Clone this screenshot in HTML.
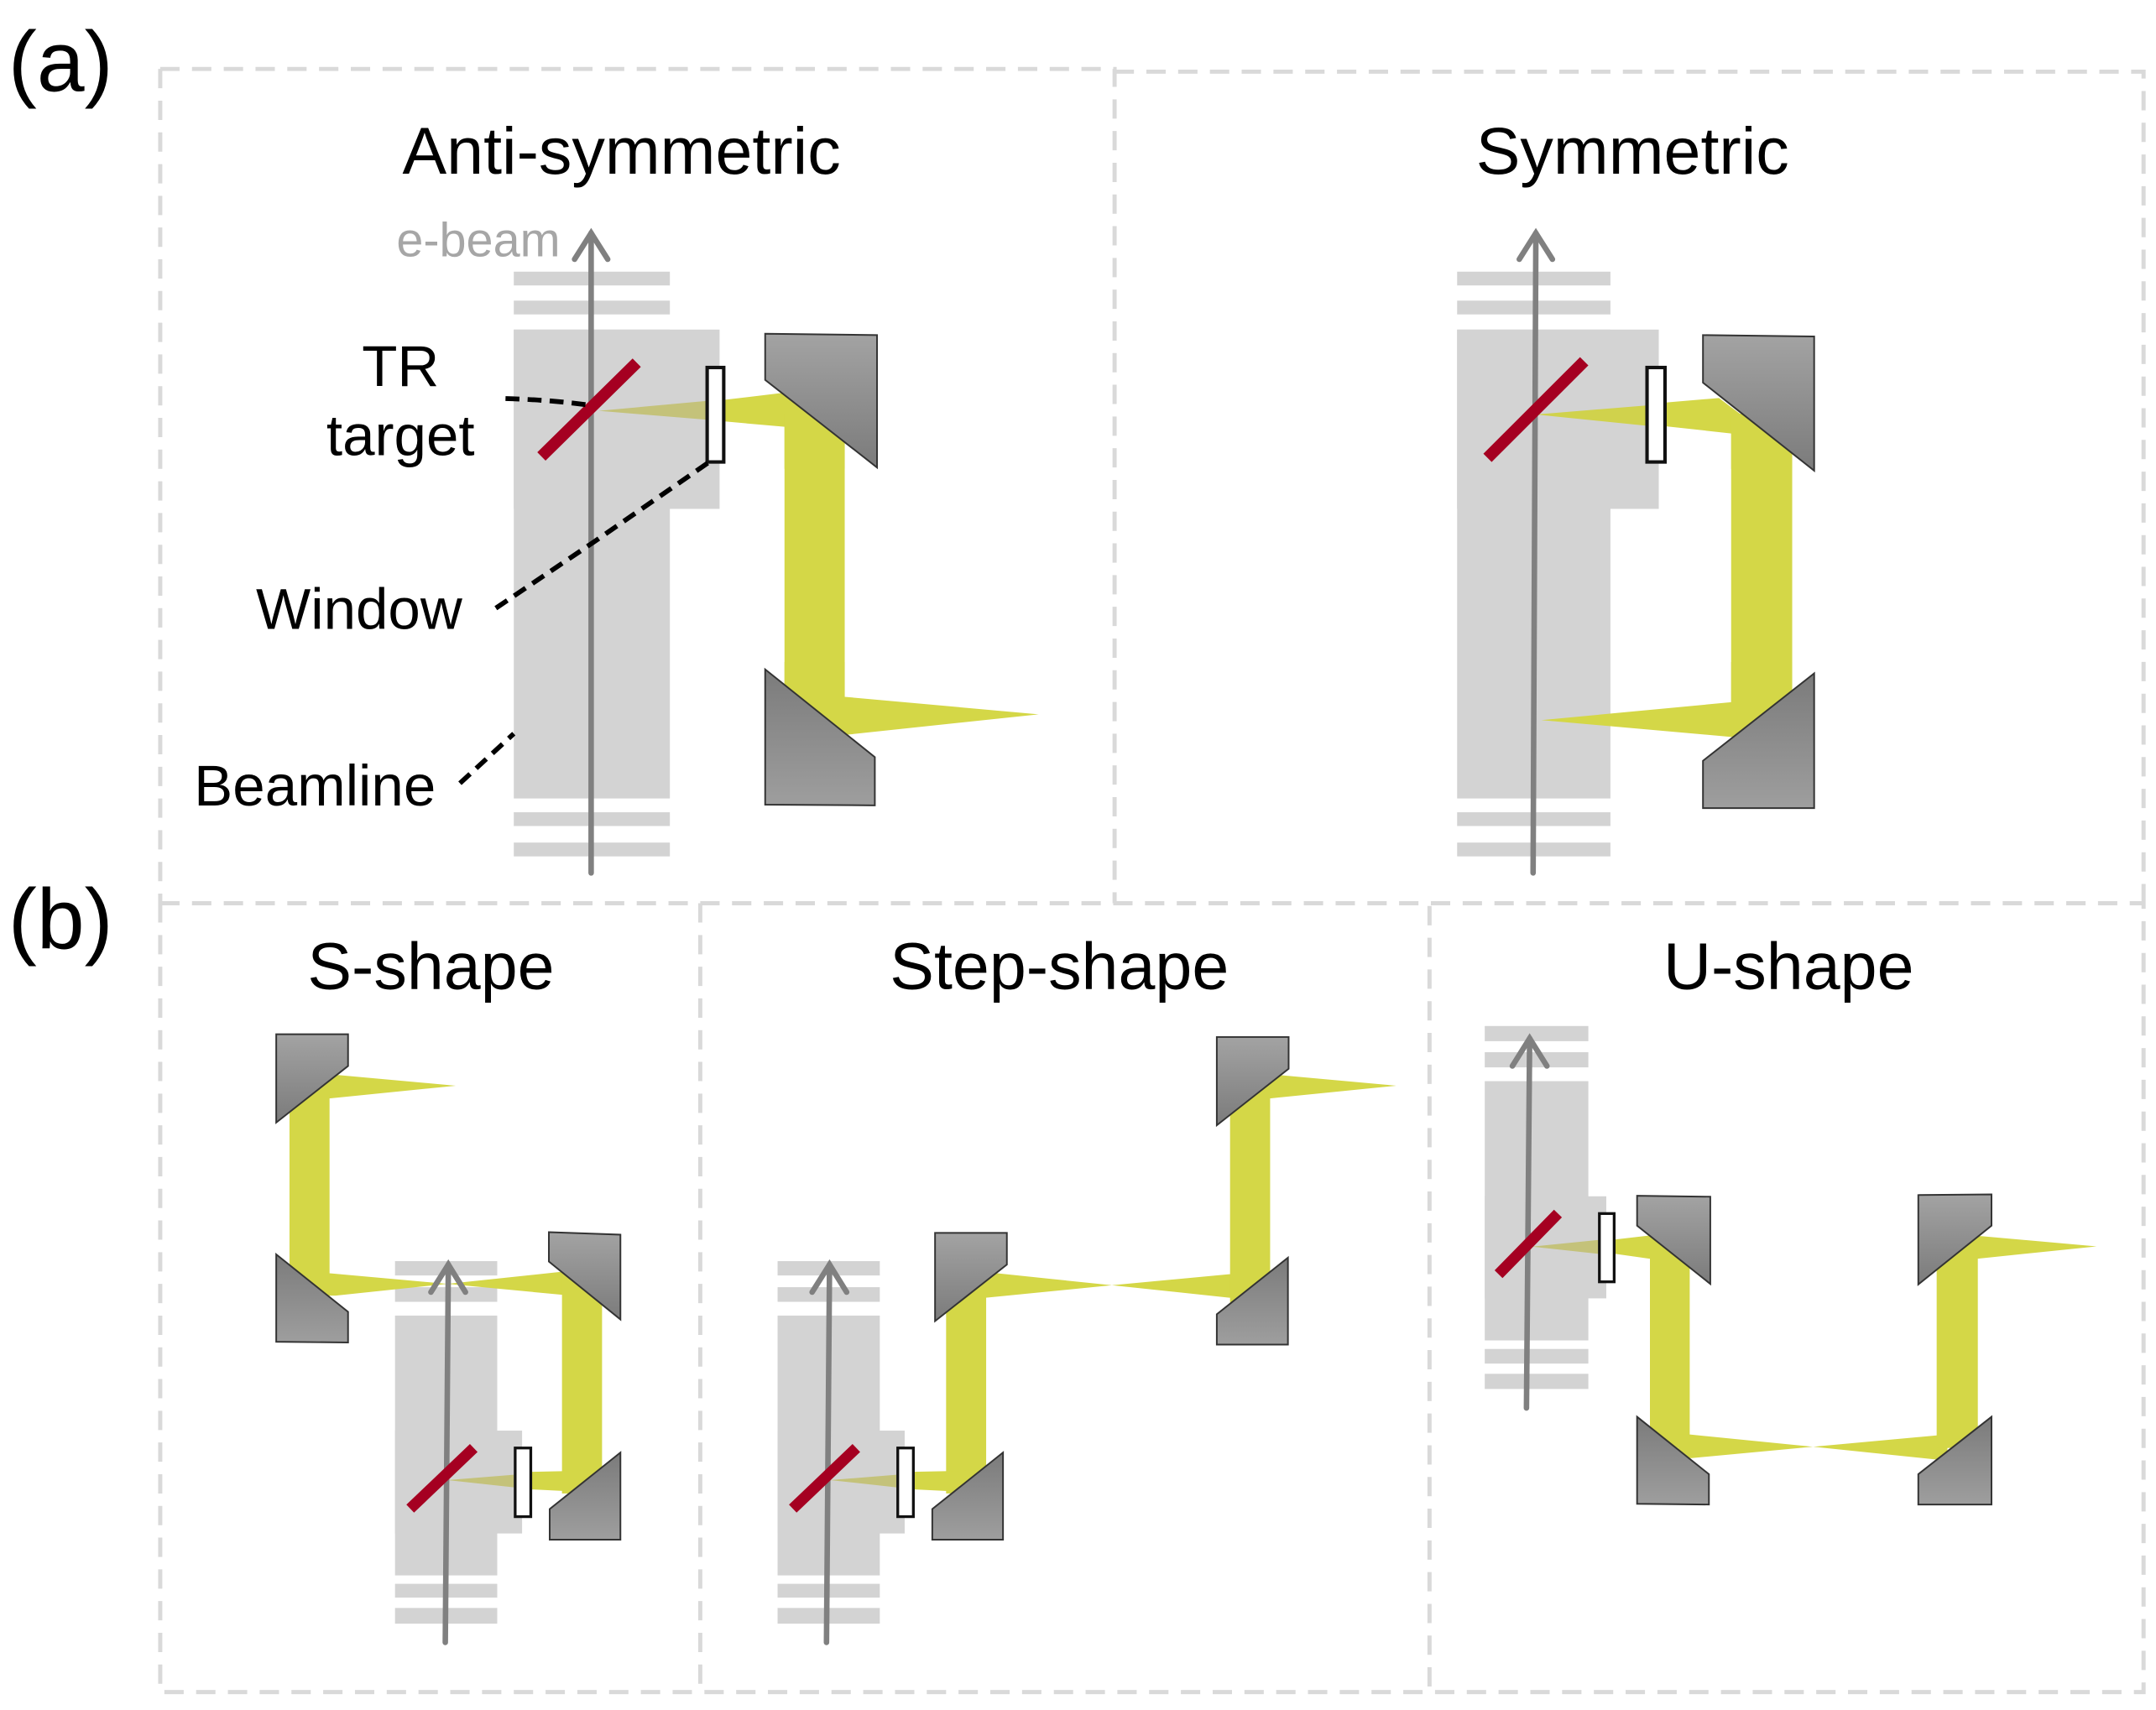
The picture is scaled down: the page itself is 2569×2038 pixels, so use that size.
<!DOCTYPE html>
<html><head><meta charset="utf-8"><style>html,body{margin:0;padding:0;background:#fff}svg{display:block}text{font-family:"Liberation Sans",Arial,sans-serif}</style></head>
<body>
<svg width="2569" height="2038" viewBox="0 0 1561 1240" preserveAspectRatio="none" xmlns="http://www.w3.org/2000/svg">
<defs>
<linearGradient id="gt" x1="0" y1="0" x2="0" y2="1"><stop offset="0" stop-color="#a3a3a3"/><stop offset="1" stop-color="#7b7b7b"/></linearGradient>
<linearGradient id="gb" x1="0" y1="0" x2="0" y2="1"><stop offset="0" stop-color="#7b7b7b"/><stop offset="1" stop-color="#9e9e9e"/></linearGradient>
</defs>
<rect width="1561" height="1240" fill="#fff"/>
<!-- dashed frames -->
<g stroke="#d9d9d9" stroke-width="3" fill="none" stroke-dasharray="14 9">
<path d="M116,50 H807 V655"/>
<path d="M807,52 H1552 V655"/>
<path d="M116,50 V655"/>
<path d="M116,655 H1552"/>
<path d="M116,655 V1227 H1552 V655"/>
<path d="M507,655 V1227"/>
<path d="M1035,657 V1227"/>
</g>
<!-- labels -->
<text x="6" y="66" font-size="62">(a)</text>
<text x="6" y="688" font-size="62">(b)</text>
<g font-size="48" text-anchor="middle">
<text x="450" y="126">Anti-symmetric</text>
<text x="1182" y="126">Symmetric</text>
<text x="312" y="717">S-shape</text>
<text x="767" y="717">Step-shape</text>
<text x="1295" y="717">U-shape</text>
</g>
<g font-size="42" text-anchor="middle">
<text x="290" y="280">TR</text>
<text x="290" y="330">target</text>
<text x="260" y="456">Window</text>
<text x="228" y="584">Beamline</text>
</g>
<text x="287" y="186" font-size="35" fill="#a6a6a6">e-beam</text>

<!-- ===== Anti-symmetric ===== -->
<g fill="#d3d3d3">
<rect x="372" y="197" width="113" height="10"/><rect x="372" y="218" width="113" height="10"/>
<rect x="372" y="239" width="149" height="130"/><rect x="372" y="239" width="113" height="340"/>
<rect x="372" y="589" width="113" height="10"/><rect x="372" y="611" width="113" height="10"/>
</g>
<polygon points="433.5,297.9 512,290.7 512,304.4" fill="#c4c27a"/>
<g fill="#d4d747">
<polygon points="518,290.7 566,285 611.6,320 611.6,340 568,340 568,309.5 518,305"/>
<rect x="568" y="300" width="43.6" height="206"/>
<polygon points="568,480 611.6,480 611.6,505.3 752,518 613,532.8 568,497"/>
</g>
<polygon points="554,242 635,243 635,339 554,275.5" fill="url(#gt)" stroke="#333" stroke-width="1.2"/>
<polygon points="554,485.4 633.4,549 633.4,584 554,583.5" fill="url(#gb)" stroke="#333" stroke-width="1.2"/>
<rect x="512" y="266.5" width="12" height="68.5" fill="#fff" stroke="#111" stroke-width="2.5"/>
<g stroke="#808080" stroke-width="4" fill="none" stroke-linecap="round">
<line x1="428" y1="633" x2="428" y2="169"/><polyline points="416,188 428,169 440,188"/>
</g>
<line x1="392" y1="331" x2="461" y2="263" stroke="#a50021" stroke-width="8.5"/>
<g stroke="#000" stroke-width="3.5" fill="none" stroke-dasharray="10 6">
<path d="M366,289 Q400,290 428,294"/>
<path d="M359,441 L430,393 L515,334"/>
<path d="M333,568 L372,532"/>
</g>

<!-- ===== Symmetric ===== -->
<g fill="#d3d3d3">
<rect x="1055" y="197" width="111" height="10"/><rect x="1055" y="218" width="111" height="10"/>
<rect x="1055" y="239" width="146" height="130"/><rect x="1055" y="239" width="111" height="340"/>
<rect x="1055" y="589" width="111" height="10"/><rect x="1055" y="611" width="111" height="10"/>
</g>
<polygon points="1112,300.6 1192,294 1192,308.7" fill="#d0d24c"/>
<g fill="#d4d747">
<polygon points="1205,292 1244.6,288.6 1297.6,328.6 1297.6,340 1253.4,340 1253.4,314.3 1205,309"/>
<rect x="1253.4" y="300" width="44.2" height="210"/>
<polygon points="1253.4,480 1297.6,480 1297.6,500.8 1254.8,534.5 1116,522.2 1253.4,509.2"/>
</g>
<polygon points="1233,243 1313.5,244 1313.5,341.3 1233,277.5" fill="url(#gt)" stroke="#333" stroke-width="1.2"/>
<polygon points="1313.5,488.3 1313.5,586 1233,586 1233,551.7" fill="url(#gb)" stroke="#333" stroke-width="1.2"/>
<rect x="1192.5" y="266.5" width="13" height="68.5" fill="#fff" stroke="#111" stroke-width="2.5"/>
<g stroke="#808080" stroke-width="4" fill="none" stroke-linecap="round">
<line x1="1110" y1="633" x2="1112" y2="169"/><polyline points="1100,188 1112,169 1124,188"/>
</g>
<line x1="1077" y1="332" x2="1147" y2="262" stroke="#a50021" stroke-width="8.5"/>

<!-- ===== S-shape ===== -->
<g fill="#d3d3d3">
<rect x="286" y="914.5" width="74" height="10.4"/><rect x="286" y="933.4" width="74" height="10.6"/>
<rect x="286" y="954" width="74" height="188.4"/><rect x="286" y="1037.4" width="92" height="74.6"/>
<rect x="286" y="1148.5" width="74" height="10"/><rect x="286" y="1166" width="74" height="11.4"/>
</g>
<polygon points="324,1073.3 372,1069.4 372,1078.5" fill="#c4c27a"/>
<g fill="#d4d747">
<rect x="209.6" y="770" width="29" height="175"/>
<polygon points="230,779.4 243.1,779.4 330,787.3 238.6,796.5 230,796.5"/>
<polygon points="225,923.3 238.6,923.3 324,931 243.1,939.5 225,939.5"/>
<polygon points="324,931 404.9,922.4 420,922.4 420,938.9 406.9,938.9"/>
<rect x="406.9" y="915" width="29" height="168"/>
<polygon points="384,1067.3 445,1066 445,1083 384,1080"/>
</g>
<polygon points="200,750 252,750 252,773 200,814" fill="url(#gt)" stroke="#333" stroke-width="1.2"/>
<polygon points="200,909.6 252,951.3 252,973.5 200,973" fill="url(#gb)" stroke="#333" stroke-width="1.2"/>
<polygon points="397.4,893.5 449.2,895.3 449.2,956.8 397.4,914.8" fill="url(#gt)" stroke="#333" stroke-width="1.2"/>
<polygon points="449.2,1053.3 449.2,1116.5 398,1116.5 398,1094.3" fill="url(#gb)" stroke="#333" stroke-width="1.2"/>
<rect x="373" y="1050" width="11.3" height="49.8" fill="#fff" stroke="#111" stroke-width="2"/>
<g stroke="#808080" stroke-width="4" fill="none" stroke-linecap="round">
<line x1="322.4" y1="1191" x2="324.6" y2="917"/><polyline points="312,937 324.6,917 337,937"/>
</g>
<line x1="297" y1="1094" x2="343" y2="1050" stroke="#a50021" stroke-width="8"/>

<!-- ===== Step-shape ===== -->
<g fill="#d3d3d3">
<rect x="563" y="914.5" width="74" height="10.4"/><rect x="563" y="933.4" width="74" height="10.6"/>
<rect x="563" y="954" width="74" height="188.4"/><rect x="563" y="1037.4" width="92" height="74.6"/>
<rect x="563" y="1148.5" width="74" height="10"/><rect x="563" y="1166" width="74" height="11.4"/>
</g>
<polygon points="601,1073.3 649,1069.4 649,1078.5" fill="#c4c27a"/>
<g fill="#d4d747">
<rect x="685" y="915" width="29" height="168"/>
<polygon points="661,1067.3 722,1066 722,1083 661,1080"/>
<polygon points="705,922.5 714,922.5 805,932 890,924 900,924 900,941 890,941 805,932 714,941 705,941"/>
<rect x="890.6" y="770" width="29" height="175"/>
<polygon points="912,779.4 924,779.4 1011,787.3 919.6,796.5 912,796.5"/>
</g>
<polygon points="677,894 729,894 729,917 677,958" fill="url(#gt)" stroke="#333" stroke-width="1.2"/>
<polygon points="726.2,1053.3 726.2,1116.5 675,1116.5 675,1094.3" fill="url(#gb)" stroke="#333" stroke-width="1.2"/>
<polygon points="881,752 933,752 933,775 881,816" fill="url(#gt)" stroke="#333" stroke-width="1.2"/>
<polygon points="932.5,912 932.5,975 881,975 881,953" fill="url(#gb)" stroke="#333" stroke-width="1.2"/>
<rect x="650" y="1050" width="11.3" height="49.8" fill="#fff" stroke="#111" stroke-width="2"/>
<g stroke="#808080" stroke-width="4" fill="none" stroke-linecap="round">
<line x1="598.4" y1="1191" x2="600.6" y2="917"/><polyline points="588,937 600.6,917 613,937"/>
</g>
<line x1="574" y1="1094" x2="620" y2="1050" stroke="#a50021" stroke-width="8"/>

<!-- ===== U-shape ===== -->
<g fill="#d3d3d3">
<rect x="1075" y="744" width="75" height="11"/><rect x="1075" y="763" width="75" height="11"/>
<rect x="1075" y="784" width="75" height="188"/><rect x="1075" y="867.5" width="88" height="74"/>
<rect x="1075" y="978.2" width="75" height="10.6"/><rect x="1075" y="996.2" width="75" height="11"/>
</g>
<polygon points="1109.2,904 1157.5,899.1 1157.5,909.2" fill="#c4c27a"/>
<g fill="#d4d747">
<polygon points="1168,899 1194.2,895.9 1210,895.9 1210,912.7 1194.2,912.7 1168,909"/>
<rect x="1194.6" y="890" width="28.8" height="160"/>
<polygon points="1215,1040.2 1223.4,1040.2 1312.8,1049.1 1402.2,1040.9 1410,1040.9 1410,1058.2 1400.5,1058.2 1312.8,1049.1 1225,1057.3 1215,1057.3"/>
<rect x="1402.2" y="890" width="29.8" height="160"/>
<polygon points="1420,896.3 1433.6,896.3 1518,903.8 1432,912.7 1420,912.7"/>
</g>
<polygon points="1185.3,867.1 1238.3,867.8 1238.3,931 1185.3,888.8" fill="url(#gt)" stroke="#333" stroke-width="1.2"/>
<polygon points="1185.3,1027.4 1237.3,1069 1237.3,1091 1185.3,1090.5" fill="url(#gb)" stroke="#333" stroke-width="1.2"/>
<polygon points="1441.9,1027.4 1441.9,1091 1388.9,1091 1388.9,1069" fill="url(#gb)" stroke="#333" stroke-width="1.2"/>
<polygon points="1388.9,866.6 1441.9,866.1 1441.9,888.8 1388.9,931.4" fill="url(#gt)" stroke="#333" stroke-width="1.2"/>
<rect x="1158" y="880" width="10.7" height="49.5" fill="#fff" stroke="#111" stroke-width="2"/>
<g stroke="#808080" stroke-width="4" fill="none" stroke-linecap="round">
<line x1="1105.2" y1="1021" x2="1107.5" y2="753"/><polyline points="1095,773 1107.5,753 1120,773"/>
</g>
<line x1="1085" y1="924" x2="1128" y2="880" stroke="#a50021" stroke-width="8"/>
</svg>
</body></html>
